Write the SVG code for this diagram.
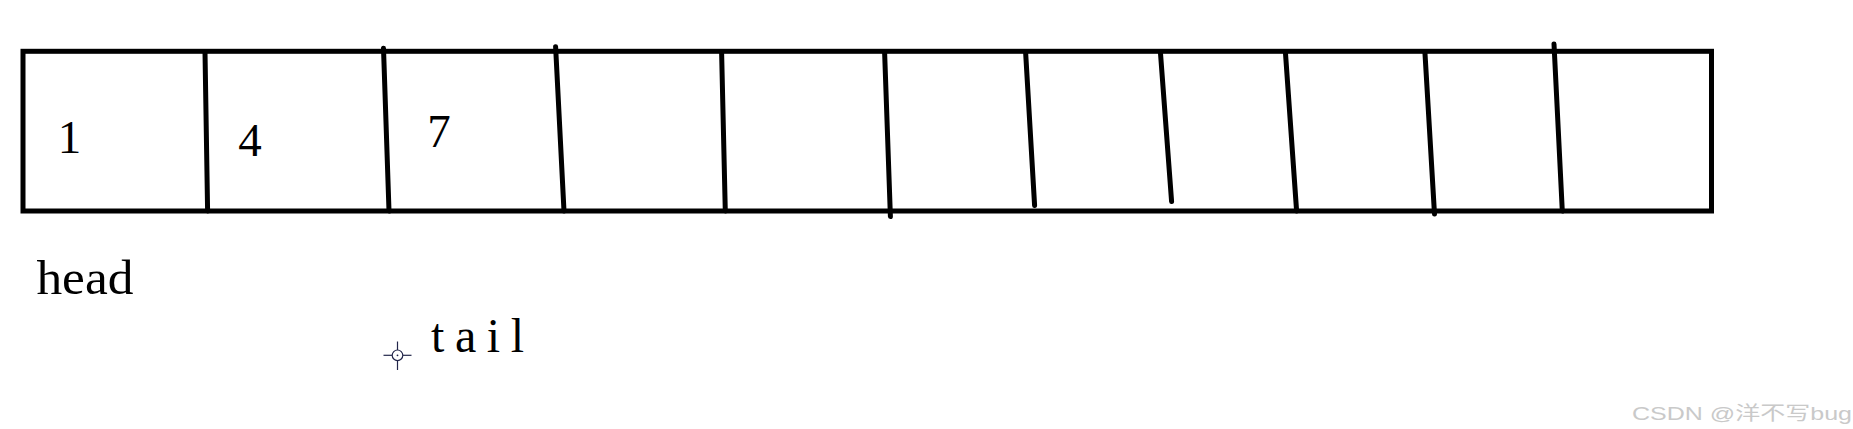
<svg xmlns="http://www.w3.org/2000/svg" width="1853" height="429" viewBox="0 0 1853 429">
<style>
.edge{fill:none;stroke:#000;stroke-width:5;stroke-linecap:round}
.box{fill:none;stroke:#000;stroke-width:5}
.num{font-family:"Liberation Serif","DejaVu Serif",serif;font-size:47px;fill:#000;text-anchor:middle}
.lbl{font-family:"Liberation Serif","DejaVu Serif",serif;font-size:48px;fill:#000}
.wm{font-family:"Liberation Sans","Noto Sans CJK SC",sans-serif;font-size:19px;fill:#c9c9c9}
.cur{fill:none;stroke:#22264a;stroke-width:1.2}
</style>
<rect width="1853" height="429" fill="#fff"/>
<g id="array">
<rect class="box" x="23" y="51.3" width="1688.5" height="159.7"/>
</g>
<g id="dividers">
<line class="edge" x1="205" y1="52" x2="207.6" y2="211"/>
<line class="edge" x1="383.5" y1="48.3" x2="389" y2="211"/>
<line class="edge" x1="555.6" y1="46.7" x2="564" y2="211"/>
<line class="edge" x1="721.6" y1="52" x2="725.3" y2="211"/>
<line class="edge" x1="884.6" y1="52" x2="890.4" y2="216.5"/>
<line class="edge" x1="1025.6" y1="52" x2="1034.6" y2="205.5"/>
<line class="edge" x1="1160.4" y1="52" x2="1171.6" y2="201.5"/>
<line class="edge" x1="1285.4" y1="52" x2="1296.6" y2="211"/>
<line class="edge" x1="1424.9" y1="52" x2="1434.5" y2="214"/>
<line class="edge" x1="1554" y1="44" x2="1562.3" y2="211"/>
</g>
<g id="cell1"><text class="num" x="69.5" y="153">1</text></g>
<g id="cell2"><text class="num" x="250" y="156">4</text></g>
<g id="cell3"><text class="num" x="439" y="147">7</text></g>
<g id="head"><text class="lbl" x="36.4" y="294" textLength="97" lengthAdjust="spacingAndGlyphs">head</text></g>
<g id="tail"><text class="lbl" x="431" y="352.3" textLength="93" lengthAdjust="spacing">tail</text></g>
<g id="cursor">
<line class="cur" x1="383.5" y1="355.3" x2="392" y2="355.3"/>
<line class="cur" x1="403" y1="355.3" x2="411.5" y2="355.3"/>
<line class="cur" x1="397.5" y1="341.5" x2="397.5" y2="350"/>
<line class="cur" x1="397.5" y1="360.6" x2="397.5" y2="370"/>
<circle class="cur" cx="397.5" cy="355.3" r="5.3"/>
<circle cx="397.5" cy="355.3" r="0.9" fill="#22264a"/>
</g>
<text class="wm" x="1632" y="419.5" textLength="220" lengthAdjust="spacingAndGlyphs">CSDN @洋不写bug</text>
</svg>
